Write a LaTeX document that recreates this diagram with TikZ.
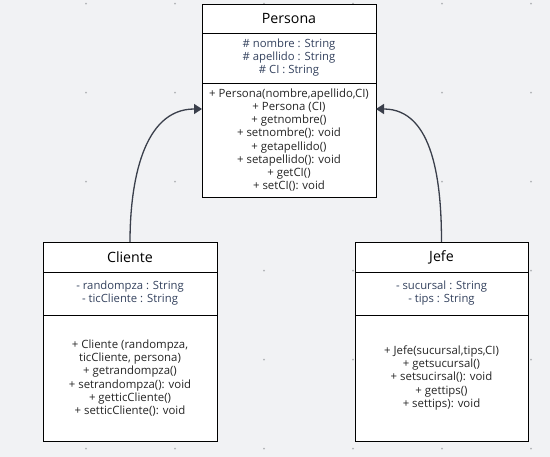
\documentclass[tikz,border=0pt]{standalone}
\usepackage{fontspec}
\setmainfont{Open Sans}
\usetikzlibrary{positioning,arrows.meta}
\definecolor{fondo}{RGB}{241,242,244}
\definecolor{punto}{RGB}{176,178,182}
\definecolor{atributo}{RGB}{52,66,94}
\definecolor{linea}{RGB}{58,63,75}
\tikzset{
  caja/.style={draw=black,fill=white,line width=0.9pt,inner sep=0pt,outer sep=0pt,
    anchor=north,align=center},
  titulo/.style={caja,font=\fontsize{14.2}{16}\selectfont},
  atributos/.style={caja,text=atributo,font=\fontsize{11.3}{13}\selectfont},
  metodos/.style={caja,text=black!85,font=\fontsize{11.4}{13.2}\selectfont},
  herencia/.style={draw=linea,line width=1.3pt,-{Triangle[length=8pt,width=10pt]}}
}
\begin{document}
\begin{tikzpicture}[x=1pt,y=-1pt]
  \fill[fondo] (0,0) rectangle (550,457);
  \useasboundingbox (0,0) rectangle (550,457);
  % puntos de la cuadricula
  \foreach \x in {86,175,264,353,442,531}
    \foreach \y in {3.7,92.7,181.7,270.7,359.7,448.7}
      \fill[punto] (\x,\y) circle (1pt);
  % clase Persona
  \node[titulo,minimum width=174pt,minimum height=29pt] (perTit) at (289,4) {Persona};
  \node[atributos,minimum width=174pt,minimum height=50pt,below=0pt of perTit] (perAtr)
    {\# nombre : String\\\# apellido : String\\\# CI : String};
  \node[metodos,minimum width=174pt,minimum height=114pt,below=0pt of perAtr] (perMet)
    {+ Persona(nombre,apellido,CI)\\+ Persona (CI)\\+ getnombre()\\+ setnombre(): void\\
     + getapellido()\\+ setapellido(): void\\+ getCI()\\+ setCI(): void};
  % clase Cliente
  \node[titulo,minimum width=174pt,minimum height=30pt] (cliTit) at (130,242) {Cliente};
  \node[atributos,minimum width=174pt,minimum height=43pt,below=0pt of cliTit] (cliAtr)
    {- randompza : String\\- ticCliente : String};
  \node[metodos,minimum width=174pt,minimum height=126pt,below=0pt of cliAtr] (cliMet)
    {+ Cliente (randompza,\\ticCliente, persona)\\+ getrandompza()\\+ setrandompza(): void\\
     + getticCliente()\\+ setticCliente(): void};
  % clase Jefe
  \node[titulo,minimum width=173pt,minimum height=30pt] (jefTit) at (441.5,242) {Jefe};
  \node[atributos,minimum width=173pt,minimum height=43pt,below=0pt of jefTit] (jefAtr)
    {- sucursal : String\\- tips : String};
  \node[metodos,minimum width=173pt,minimum height=126pt,below=0pt of jefAtr] (jefMet)
    {+ Jefe(sucursal,tips,CI)\\+ getsucursal()\\+ setsucirsal(): void\\+ gettips()\\
     + settips): void};
  % herencia
  \draw[herencia] (cliTit.north) to[out=90,in=180] ([yshift=-26pt]perMet.north west);
  \draw[herencia] (jefTit.north) to[out=90,in=0] ([yshift=-26pt]perMet.north east);
\end{tikzpicture}
\end{document}
